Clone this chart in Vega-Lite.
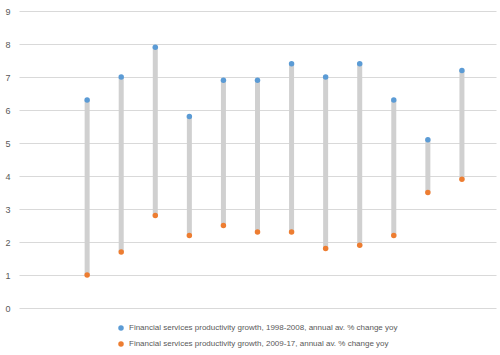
{
  "$schema": "https://vega.github.io/schema/vega-lite/v6.json",
  "width": 477,
  "height": 297,
  "autosize": {"type": "none"},
  "padding": {"left": 19, "top": 11, "right": 4, "bottom": 47},
  "config": {
    "view": {"stroke": null},
    "font": "Liberation Sans"
  },
  "data": {
    "values": [
      {"x": 2, "series": "Financial services productivity growth, 1998-2008, annual av. % change yoy", "value": 6.3},
      {"x": 2, "series": "Financial services productivity growth, 2009-17, annual av. % change yoy", "value": 1.0},
      {"x": 3, "series": "Financial services productivity growth, 1998-2008, annual av. % change yoy", "value": 7.0},
      {"x": 3, "series": "Financial services productivity growth, 2009-17, annual av. % change yoy", "value": 1.7},
      {"x": 4, "series": "Financial services productivity growth, 1998-2008, annual av. % change yoy", "value": 7.9},
      {"x": 4, "series": "Financial services productivity growth, 2009-17, annual av. % change yoy", "value": 2.8},
      {"x": 5, "series": "Financial services productivity growth, 1998-2008, annual av. % change yoy", "value": 5.8},
      {"x": 5, "series": "Financial services productivity growth, 2009-17, annual av. % change yoy", "value": 2.2},
      {"x": 6, "series": "Financial services productivity growth, 1998-2008, annual av. % change yoy", "value": 6.9},
      {"x": 6, "series": "Financial services productivity growth, 2009-17, annual av. % change yoy", "value": 2.5},
      {"x": 7, "series": "Financial services productivity growth, 1998-2008, annual av. % change yoy", "value": 6.9},
      {"x": 7, "series": "Financial services productivity growth, 2009-17, annual av. % change yoy", "value": 2.3},
      {"x": 8, "series": "Financial services productivity growth, 1998-2008, annual av. % change yoy", "value": 7.4},
      {"x": 8, "series": "Financial services productivity growth, 2009-17, annual av. % change yoy", "value": 2.3},
      {"x": 9, "series": "Financial services productivity growth, 1998-2008, annual av. % change yoy", "value": 7.0},
      {"x": 9, "series": "Financial services productivity growth, 2009-17, annual av. % change yoy", "value": 1.8},
      {"x": 10, "series": "Financial services productivity growth, 1998-2008, annual av. % change yoy", "value": 7.4},
      {"x": 10, "series": "Financial services productivity growth, 2009-17, annual av. % change yoy", "value": 1.9},
      {"x": 11, "series": "Financial services productivity growth, 1998-2008, annual av. % change yoy", "value": 6.3},
      {"x": 11, "series": "Financial services productivity growth, 2009-17, annual av. % change yoy", "value": 2.2},
      {"x": 12, "series": "Financial services productivity growth, 1998-2008, annual av. % change yoy", "value": 5.1},
      {"x": 12, "series": "Financial services productivity growth, 2009-17, annual av. % change yoy", "value": 3.5},
      {"x": 13, "series": "Financial services productivity growth, 1998-2008, annual av. % change yoy", "value": 7.2},
      {"x": 13, "series": "Financial services productivity growth, 2009-17, annual av. % change yoy", "value": 3.9}
    ]
  },
  "layer": [
    {
      "transform": [
        {"aggregate": [{"op": "max", "field": "value", "as": "hi"}, {"op": "min", "field": "value", "as": "lo"}], "groupby": ["x"]}
      ],
      "mark": {"type": "rule", "strokeWidth": 5, "color": "#d0d0d0", "strokeCap": "butt"},
      "encoding": {
        "x": {"field": "x", "type": "quantitative", "scale": {"domain": [0, 14]}, "axis": null},
        "y": {
          "field": "hi", "type": "quantitative",
          "scale": {"domain": [0, 9], "nice": false},
          "axis": {
            "title": null, "values": [0,1,2,3,4,5,6,7,8,9], "domain": false, "ticks": false,
            "labelColor": "#595959", "labelFontSize": 9, "labelPadding": 9,
            "gridColor": "#d9d9d9", "gridWidth": 1
          }
        },
        "y2": {"field": "lo"}
      }
    },
    {
      "mark": {"type": "circle", "size": 30, "opacity": 1},
      "encoding": {
        "x": {"field": "x", "type": "quantitative", "scale": {"domain": [0, 14]}, "axis": null},
        "y": {
          "field": "value", "type": "quantitative",
          "scale": {"domain": [0, 9], "nice": false},
          "axis": {
            "title": null, "values": [0,1,2,3,4,5,6,7,8,9], "domain": false, "ticks": false,
            "labelColor": "#595959", "labelFontSize": 9, "labelPadding": 9,
            "gridColor": "#d9d9d9", "gridWidth": 1
          }
        },
        "color": {
          "field": "series", "type": "nominal",
          "scale": {
            "domain": ["Financial services productivity growth, 1998-2008, annual av. % change yoy", "Financial services productivity growth, 2009-17, annual av. % change yoy"],
            "range": ["#5b9bd5", "#ed7d31"]
          },
          "legend": {
            "title": null, "orient": "none", "legendX": 98, "legendY": 313,
            "direction": "vertical", "symbolType": "circle", "symbolSize": 30,
            "labelFontSize": 8, "labelColor": "#595959", "rowPadding": 8, "labelLimit": 400, "labelOffset": 4
          }
        }
      }
    }
  ]
}
